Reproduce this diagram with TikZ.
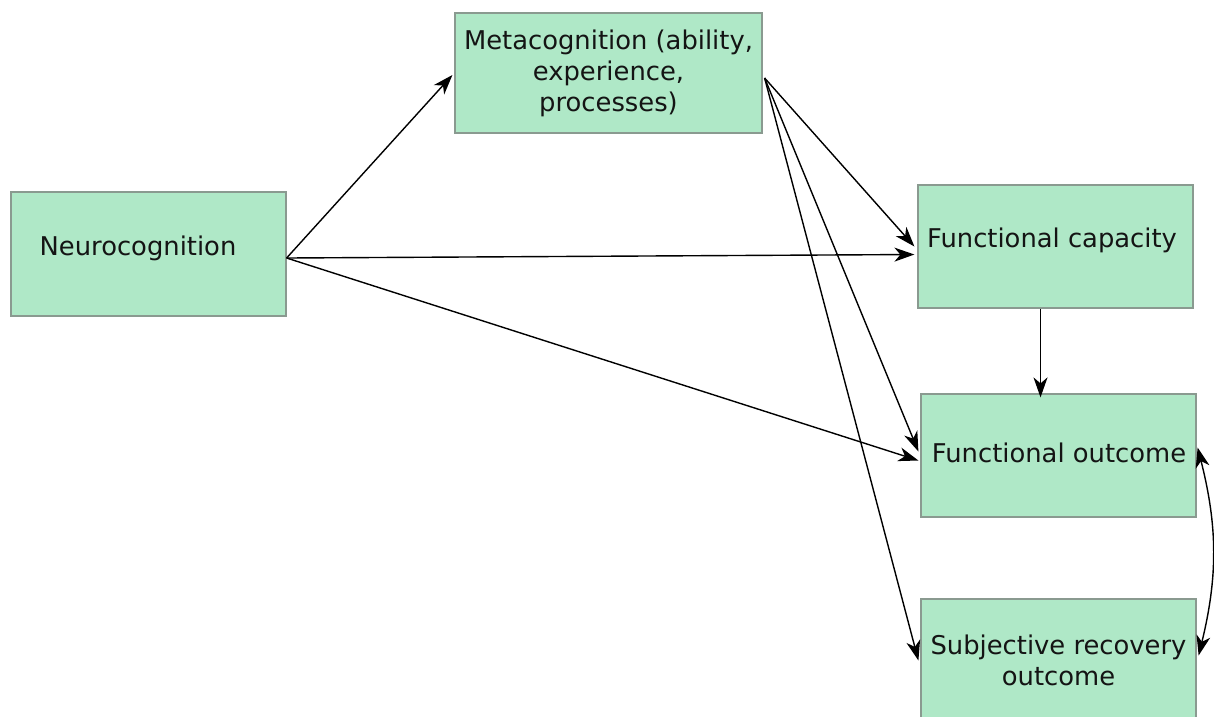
\documentclass[tikz,border=0pt]{standalone}
\usepackage{fontspec}
\setmainfont{DejaVu Sans}
\usetikzlibrary{arrows.meta}
\definecolor{boxfill}{HTML}{AFE8C7}
\definecolor{boxline}{HTML}{8A9A90}
\definecolor{txt}{HTML}{141414}
\tikzset{
  box/.style={draw=boxline, line width=1.2pt, fill=boxfill, minimum width=275pt, minimum height=123pt, inner sep=0pt, align=center, text=txt, font=\fontsize{25.8}{31}\selectfont},
  lbl/.style={text=txt, font=\fontsize{25.8}{31}\selectfont, inner sep=0pt},
  tip/.tip={Stealth[length=20pt,width=14pt,inset=6pt]},
  conn/.style={line width=1.4pt, -tip},
  dconn/.style={line width=1.4pt, tip-tip}
}
\begin{document}
\begin{tikzpicture}[x=1pt,y=-1pt]
\useasboundingbox (0,0) rectangle (1214,716);
\clip (0,0) rectangle (1214,716);
\node[box, minimum width=275pt, minimum height=124pt] (neuro) at (148.5,254) {};
\node[lbl] (neurot) at (138,248) {Neurocognition};
\node[box, minimum width=307pt, minimum height=120pt] (meta) at (608.5,73) {Metacognition (ability,\\experience,\\processes)};
\node[box] (fc) at (1055.5,246.5) {};
\node[lbl] (fct) at (1052,240) {Functional capacity};
\node[box] (fo) at (1058.5,455.5) {};
\node[lbl] (fot) at (1059,453) {Functional outcome};
\node[box] (sro) at (1058.5,660.5) {Subjective recovery\\outcome};
% connectors
\draw[conn] ([yshift=-4pt]neuro.east) -- ([xshift=-2pt,yshift=-2pt]meta.west);
\draw[conn] ([yshift=-4pt]neuro.east) -- ([xshift=-3pt,yshift=-8pt]fc.west);
\draw[conn] ([yshift=-4pt]neuro.east) -- ([xshift=-2pt,yshift=-5pt]fo.west);
\draw[conn] ([xshift=2pt,yshift=-5pt]meta.east) -- ([xshift=-3pt]fc.west);
\draw[conn] ([xshift=2pt,yshift=-5pt]meta.east) -- ([xshift=-2pt,yshift=4pt]fo.west);
\draw[conn] ([xshift=2pt,yshift=-5pt]meta.east) -- ([xshift=-2pt]sro.west);
\draw[conn] ([xshift=-15pt]fc.south) -- ([xshift=-18pt,yshift=-4pt]fo.north);
\draw[dconn] ([xshift=1pt,yshift=8pt]fo.east) to[bend left=14] ([xshift=2pt,yshift=5pt]sro.east);
\end{tikzpicture}
\end{document}
